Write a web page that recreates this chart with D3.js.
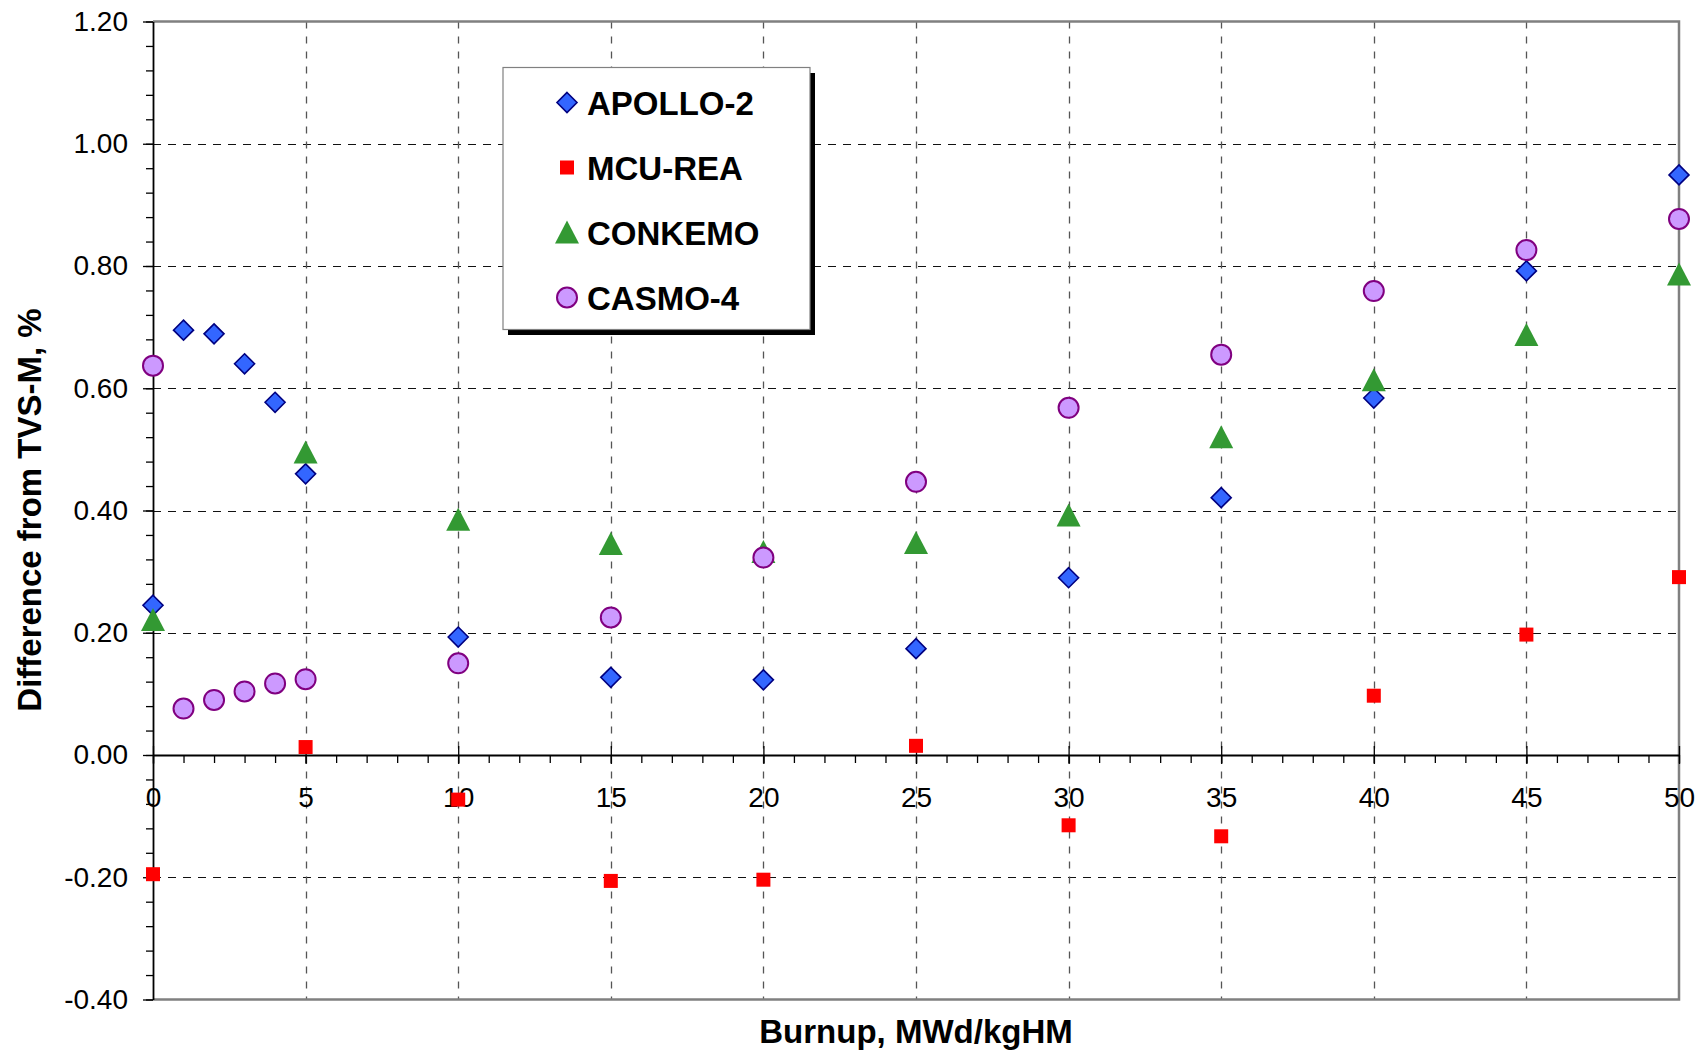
<!DOCTYPE html>
<html>
<head>
<meta charset="utf-8">
<script src="https://cdn.jsdelivr.net/npm/d3@7"></script>
<style>
    body { margin: 0; background: #fff; }
    svg text { font-family: "Liberation Sans", Arial, sans-serif; }
</style>
</head>
<body>
<svg id="chart" width="1700" height="1055"></svg>
<script>
// burnup points (MWd/kgHM)
const BURNUP_FINE = [0, 1, 2, 3, 4, 5, 10, 15, 20, 25, 30, 35, 40, 45, 50];
const BURNUP_COARSE = [0, 5, 10, 15, 20, 25, 30, 35, 40, 45, 50];

// difference from TVS-M, %
const APOLLO_2 = [0.245, 0.695, 0.689, 0.640, 0.577, 0.460, 0.193, 0.127, 0.123, 0.174, 0.290, 0.421, 0.584, 0.792, 0.949];
const MCU_REA = [-0.195, 0.013, -0.073, -0.206, -0.204, 0.015, -0.115, -0.133, 0.097, 0.197, 0.291];
const CONKEMO = [0.221, 0.495, 0.385, 0.345, 0.332, 0.347, 0.392, 0.520, 0.613, 0.687, 0.786];
const CASMO_4 = [0.637, 0.076, 0.090, 0.104, 0.117, 0.124, 0.150, 0.225, 0.323, 0.447, 0.568, 0.655, 0.759, 0.826, 0.877];

const X_TICKS = [0, 5, 10, 15, 20, 25, 30, 35, 40, 45, 50];
const Y_TICKS = [-0.4, -0.2, 0, 0.2, 0.4, 0.6, 0.8, 1.0, 1.2];

const X_TITLE = "Burnup, MWd/kgHM";
const Y_TITLE = "Difference from TVS-M, %";

var series = [
    {"name": "APOLLO-2", "xs": BURNUP_FINE, "ys": APOLLO_2, "shape": "diamond"},
    {"name": "MCU-REA", "xs": BURNUP_COARSE, "ys": MCU_REA, "shape": "square"},
    {"name": "CONKEMO", "xs": BURNUP_COARSE, "ys": CONKEMO, "shape": "triangle"},
    {"name": "CASMO-4", "xs": BURNUP_FINE, "ys": CASMO_4, "shape": "circle"},
];

var svg = d3.select("svg#chart");
const plot = { "left": 153, "right": 1679, "top": 21.5, "bottom": 999.5 };

var x = d3.scaleLinear().domain([0, 50]).range([plot.left, plot.right]);
var y = d3.scaleLinear().domain([-0.4, 1.2]).range([plot.bottom, plot.top]);
var y0 = y(0);

function fmtY(v) {
    // plain hyphen for negatives, like the original
    return Math.abs(v) < 1e-9 ? "0.00" : v.toFixed(2);
}

// dashed grid
var grid = svg.append("g").attr("class", "grid");
grid.selectAll("line.h")
    .data(Y_TICKS.filter(v => v != 0 && v != 1.2 && v != -0.4))
    .join("line")
    .attr("x1", plot.left).attr("x2", plot.right)
    .attr("y1", d => Math.round(y(d)) + 0.5).attr("y2", d => Math.round(y(d)) + 0.5)
    .attr("stroke", "#111").attr("stroke-width", 1.2)
    .attr("stroke-dasharray", "8,7");
grid.selectAll("line.v")
    .data(X_TICKS.filter(v => v != 0 && v != 50))
    .join("line")
    .attr("x1", d => Math.round(x(d)) + 0.5).attr("x2", d => Math.round(x(d)) + 0.5)
    .attr("y1", plot.top).attr("y2", plot.bottom)
    .attr("stroke", "#555").attr("stroke-width", 1.3)
    .attr("stroke-dasharray", "7,8");

// plot frame (top, right, bottom)
svg.append("path")
    .attr("fill", "none")
    .attr("stroke", "#808080")
    .attr("stroke-width", 2.5)
    .attr("d", d3.line()([[plot.left, plot.top], [plot.right, plot.top], [plot.right, plot.bottom], [plot.left, plot.bottom]]));

// y axis: minor ticks then major ticks with labels
svg.append("g")
    .attr("transform", "translate(" + plot.left + ",0)")
    .call(d3.axisLeft(y).tickValues(d3.range(0, 41).map(i => -0.4 + i * 0.04)).tickSize(7).tickFormat("").tickSizeOuter(0))
    .call(g => g.select(".domain").remove())
    .call(g => g.selectAll("line").attr("stroke", "#000").attr("stroke-width", 1.3));

var yAxis = svg.append("g")
    .attr("transform", "translate(" + plot.left + ",0)")
    .call(d3.axisLeft(y).tickValues(Y_TICKS).tickSize(10).tickPadding(15).tickFormat(fmtY).tickSizeOuter(0));
yAxis.select(".domain").attr("stroke", "#000").attr("stroke-width", 1.8);
yAxis.selectAll("line").attr("stroke", "#000").attr("stroke-width", 1.3);
yAxis.selectAll("text")
    .style("font-size", "28px")
    .attr("fill", "#000");

// x axis at zero
svg.append("g")
    .attr("transform", "translate(0," + y0 + ")")
    .call(d3.axisBottom(x).tickValues(d3.range(0, 51)).tickSize(8).tickFormat("").tickSizeOuter(0))
    .call(g => g.select(".domain").remove())
    .call(g => g.selectAll("line").attr("stroke", "#000").attr("stroke-width", 1.3));

var xAxis = svg.append("g")
    .attr("transform", "translate(0," + y0 + ")")
    .call(d3.axisBottom(x).tickValues(X_TICKS).tickSize(9).tickPadding(23).tickFormat(d3.format("d")).tickSizeOuter(0));
xAxis.select(".domain").attr("stroke", "#000").attr("stroke-width", 1.8);
xAxis.selectAll("line").attr("y1", -9).attr("stroke", "#000").attr("stroke-width", 1.3);
xAxis.selectAll("text")
    .style("font-size", "28px")
    .attr("fill", "#000");

// axis titles
svg.append("text")
    .attr("x", (plot.left + plot.right) / 2)
    .attr("y", 1043)
    .attr("text-anchor", "middle")
    .style("font-size", "33px")
    .style("font-weight", "bold")
    .text(X_TITLE);

svg.append("text")
    .attr("transform", "translate(41," + 510 + ") rotate(-90)")
    .attr("text-anchor", "middle")
    .style("font-size", "33px")
    .style("font-weight", "bold")
    .text(Y_TITLE);

// marker drawing
function drawMarker(g, shape) {
    if (shape == "diamond") {
        g.append("path")
            .attr("d", "M0,-10L10,0L0,10L-10,0Z")
            .attr("fill", "#3366FF")
            .attr("stroke", "#000080")
            .attr("stroke-width", 1.6);
    } else if (shape == "square") {
        g.append("rect")
            .attr("x", -7).attr("y", -7)
            .attr("width", 14).attr("height", 14)
            .attr("fill", "#FF0000");
    } else if (shape == "triangle") {
        g.append("path")
            .attr("d", "M0,-12L12,11L-12,11Z")
            .attr("fill", "#339933");
    } else {
        g.append("circle")
            .attr("r", 10)
            .attr("fill", "#CC99FF")
            .attr("stroke", "#800080")
            .attr("stroke-width", 2);
    }
}

series.forEach(function(s) {
    var pts = s.xs.map((b, i) => [b, s.ys[i]]);
    svg.append("g").attr("class", "series")
        .selectAll("g")
        .data(pts)
        .join("g")
        .attr("transform", d => "translate(" + x(d[0]) + "," + y(d[1]) + ")")
        .each(function() { drawMarker(d3.select(this), s.shape); });
});

// legend with drop shadow
var legend = svg.append("g").attr("class", "legend");
legend.append("rect")
    .attr("x", 508).attr("y", 73)
    .attr("width", 307).attr("height", 262)
    .attr("fill", "#000");
legend.append("rect")
    .attr("x", 503).attr("y", 67.5)
    .attr("width", 307).attr("height", 262)
    .attr("fill", "#fff")
    .attr("stroke", "#808080")
    .attr("stroke-width", 1.2);

series.forEach(function(s, i) {
    var cy = 102.5 + i * 65;
    var item = legend.append("g");
    drawMarker(item.append("g").attr("transform", "translate(567," + cy + ")"), s.shape);
    item.append("text")
        .attr("x", 587)
        .attr("y", cy + 12)
        .style("font-size", "33px")
        .style("font-weight", "bold")
        .text(s.name);
});
</script>
</body>
</html>
